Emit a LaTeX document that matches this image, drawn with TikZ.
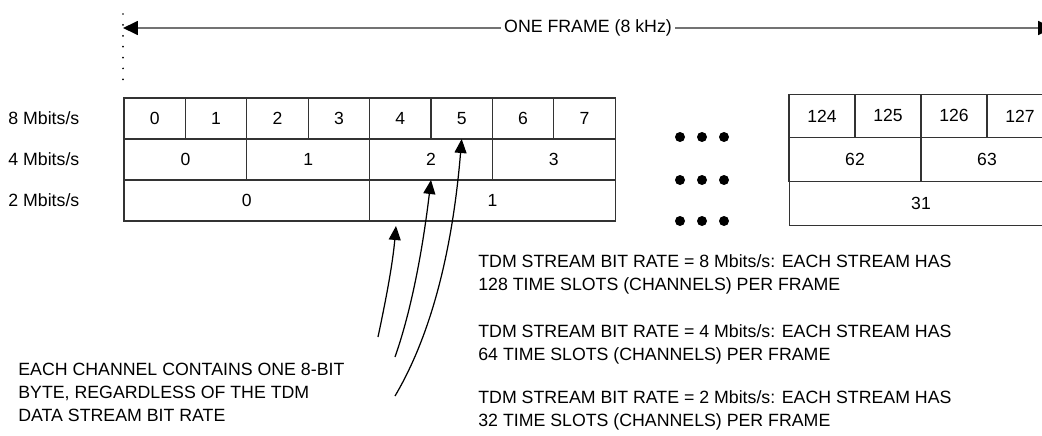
\documentclass[tikz,border=0pt]{standalone}
\usepackage{fontspec}
\setmainfont{Liberation Sans}
\usetikzlibrary{arrows.meta}

\tikzset{
  cell/.style={draw=black!80, line width=0.6pt, inner sep=0pt, outer sep=0pt,
    minimum width=#1, font=\fontsize{10}{12}\selectfont},
  lrow/.style={cell=#1, minimum height=0.82cm},
  rrow/.style={cell=#1, minimum height=0.874cm},
  callout/.style={line width=0.7pt, -{Triangle[length=0.28cm,width=0.24cm]}},
  txt/.style={anchor=west, align=left, inner sep=0pt,
    font=\fontsize{10.1}{13}\selectfont}
}

\begin{document}
\begin{tikzpicture}[x=0.02cm, y=-0.02cm]

\useasboundingbox (0,0) rectangle (1042,436);
\clip (0,0) rectangle (1042,436);

% one frame
\coordinate (fl) at (123,28);
\coordinate (fr) at (1053,28);
\draw[draw=black!55, line width=1pt,
  {Triangle[black,length=0.3cm,width=0.28cm]}-{Triangle[black,length=0.3cm,width=0.28cm]}]
  (fl) -- (fr);
\node[fill=white, inner sep=2pt, font=\fontsize{10.1}{12}\selectfont] (frm) at (588,28) {ONE FRAME (8 kHz)};
\draw[line width=1.1pt, line cap=round, dash pattern=on 0pt off 6.2pt] (123,14) -- (123,80);

% row labels
\node[txt] (l8) at (8,118.5) {8 Mbits/s};
\node[txt] (l4) at (8,159.5) {4 Mbits/s};
\node[txt] (l2) at (8,200.5) {2 Mbits/s};

% first slots
\foreach \i in {0,...,7}
  \node[lrow=1.228cm] (s8c\i) at ({124+61.4*(\i+0.5)},118.5) {\i};
\foreach \i in {0,...,3}
  \node[lrow=2.456cm] (s4c\i) at ({124+122.8*(\i+0.5)},159.5) {\i};
\foreach \i in {0,1}
  \node[lrow=4.912cm] (s2c\i) at ({124+245.6*(\i+0.5)},200.5) {\i};

% dots
\foreach \y in {137,180,221}
  \foreach \x in {680,702,724}
    \fill (\x,\y) circle[radius=0.1cm];

% last slots
\foreach \n [count=\k from 0] in {124,...,127}
  \node[rrow=1.32cm] (r8c\k) at ({789+66*(\k+0.5)},115.9) {\n};
\foreach \n [count=\k from 0] in {62,63}
  \node[rrow=2.64cm] (r4c\k) at ({789+132*(\k+0.5)},159.6) {\n};
\node[rrow=5.28cm] (r2c0) at (921,203.3) {31};

% notes
\node[txt] (note) at (18,392.5) {EACH CHANNEL CONTAINS ONE 8-BIT\\BYTE, REGARDLESS OF THE TDM\\DATA STREAM BIT RATE};
\node[txt] (n8) at (478,274) {TDM STREAM BIT RATE = 8 Mbits/s: EACH STREAM HAS\\128 TIME SLOTS (CHANNELS) PER FRAME};
\node[txt] (n4) at (478,344) {TDM STREAM BIT RATE = 4 Mbits/s: EACH STREAM HAS\\64 TIME SLOTS (CHANNELS) PER FRAME};
\node[txt] (n2) at (478,410) {TDM STREAM BIT RATE = 2 Mbits/s: EACH STREAM HAS\\32 TIME SLOTS (CHANNELS) PER FRAME};

% arrows from the note
\coordinate (t1) at (378,337);
\coordinate (t2) at (395,357);
\coordinate (t3) at (395,396);
\coordinate (h1) at (396,226);
\draw[callout] (t1) .. controls (388,290) and (393,260) .. (h1);
\draw[callout] (t2) .. controls (415,300) and (425,230) .. (s4c2.south);
\draw[callout] (t3) .. controls (440,320) and (455,220) .. (s8c5.south);

\end{tikzpicture}
\end{document}
